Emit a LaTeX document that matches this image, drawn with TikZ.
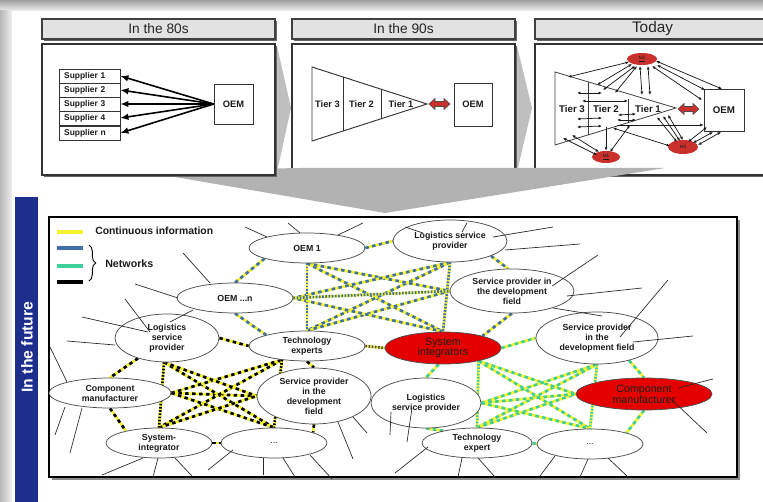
\documentclass[tikz,border=0pt]{standalone}
\usepackage{fontspec}
\setmainfont{Liberation Sans}
\usetikzlibrary{shapes.geometric,arrows.meta,decorations.pathreplacing,shadows}
\pgfdeclarelayer{back}
\pgfdeclarelayer{net}
\pgfsetlayers{back,net,main}
\definecolor{ylw}{HTML}{F4F22E}
\definecolor{nblue}{HTML}{3E6FA6}
\definecolor{ngreen}{HTML}{3CCF9A}
\definecolor{fred}{HTML}{E50000}
\definecolor{mred}{HTML}{C9302C}
\definecolor{barblue}{HTML}{1D2F8C}
\definecolor{hdr}{HTML}{E2E2E2}
\definecolor{ink}{HTML}{1A1A1A}
\definecolor{fun}{HTML}{B2B2B2}
\tikzset{
  redarr/.pic={\filldraw[fill=mred, draw=black!70, line width=0.4pt] (0,0) -- (6,-5.5) -- (6,-2.5) -- (15,-2.5) -- (15,-5.5) -- (21,0) -- (15,5.5) -- (15,2.5) -- (6,2.5) -- (6,5.5) -- cycle;}
}
\begin{document}
\begin{tikzpicture}[x=0.75pt,y=-0.75pt,
  every node/.style={text=ink},
  shd/.style={drop shadow={shadow xshift=1.8pt, shadow yshift=-1.8pt, fill=black!60, opacity=1}},
  hdrbox/.style={draw=black!75, line width=0.8pt, fill=hdr, shd, minimum height=15pt, inner sep=0pt, text=black!85, font=\fontsize{10.3}{12}\selectfont},
  panel/.style={draw=black!80, line width=0.8pt, fill=white, shd, minimum height=98.25pt, inner sep=0pt},
  sup/.style={draw=black!80, line width=0.6pt, fill=white, minimum width=45.75pt, minimum height=10.5pt, inner sep=0pt, text width=38pt, align=left, font=\bfseries\fontsize{6.3}{7}\selectfont},
  oembox/.style={draw=black!80, line width=0.6pt, fill=white, inner sep=0pt, font=\bfseries\fontsize{7}{8}\selectfont},
  tier/.style={inner sep=0pt, font=\bfseries\fontsize{7}{8}\selectfont},
  bigarr/.style={-{Latex[length=6pt,width=5pt]}, line width=1.2pt, black},
  tarr/.style={{Latex[length=2.6pt,width=2.2pt]}-{Latex[length=2.6pt,width=2.2pt]}, line width=0.55pt, black!90},
  tsing/.style={-{Latex[length=2.6pt,width=2.2pt]}, line width=0.55pt, black!90},
  mell/.style={ellipse, fill=mred, inner sep=0pt, font=\fontsize{3.5}{4}\selectfont},
  fe/.style 2 args={ellipse, draw=black!70, line width=0.55pt, fill=white, inner sep=0pt, minimum width=#1*1.5pt, minimum height=#2*1.5pt, align=center, font=\bfseries\fontsize{6.6}{7.5}\selectfont},
  fr/.style 2 args={fe={#1}{#2}, fill=fred, font=\fontsize{8}{8}\selectfont},
  netdash/.style={line width=2pt, draw=ylw, postaction={draw=#1, line width=2pt, dash pattern=on 2.6pt off 2.6pt}},
  netdot/.style={line width=2pt, draw=ylw, postaction={draw=#1, line width=2pt, dash pattern=on 1.2pt off 1.2pt}},
  spoke/.style={draw=black!85, line width=0.5pt},
  lgtext/.style={anchor=west, inner sep=0pt, font=\bfseries\fontsize{7.8}{9}\selectfont}
]
\useasboundingbox (0,0) rectangle (763,502);
\begin{pgfonlayer}{back}
  \fill[white] (0,0) rectangle (763,502);
  \shade[top color=black!38, bottom color=black!6] (0,0) rectangle (763,11);
  \shade[left color=black!28, right color=black!6] (0,11) rectangle (12,502);
  % Today
  \node[hdrbox, minimum width=176.25pt, font=\fontsize{11.5}{13}\selectfont] (hT) at (652.5,29) {Today};
  \node[panel, minimum width=176.25pt] (pT) at (652.5,109.5) {};
  % 90s
  \node[hdrbox, minimum width=167.25pt] (h90) at (403.5,29) {In the 90s};
  \node[panel, minimum width=167.25pt] (p90) at (403.5,109.5) {};
  % chevrons
  \fill[black!25] (277,46) -- (291,108) -- (277,172) -- cycle;
  \fill[black!25] (517,46) -- (532,108) -- (517,172) -- cycle;
  % funnel
  \fill[fun] (140,171) -- (300,168) -- (665,168) -- (385,213) -- cycle;
  % 80s
  \node[hdrbox, minimum width=174.75pt] (h80) at (158.5,29) {In the 80s};
  \node[panel, minimum width=174.75pt] (p80) at (158.5,109.5) {};
  % future bar and frame
  \fill[barblue] (15,197) rectangle (38,502);
  \node[rotate=90, text=white, inner sep=0pt, font=\bfseries\fontsize{11.8}{13}\selectfont] (fut) at (27,347) {In the future};
  \node[draw=black, fill=white, line width=0.8pt, minimum width=516pt, minimum height=195pt, inner sep=0pt,
        drop shadow={shadow xshift=2pt, shadow yshift=-2pt, fill=black!45, opacity=1}] (frame) at (393,347) {};
\end{pgfonlayer}

% ---------- 80s ----------
\node[sup] (s1) at (89.5,76) {Supplier 1};
\node[sup] (s2) at (89.5,90) {Supplier 2};
\node[sup] (s3) at (89.5,104) {Supplier 3};
\node[sup] (s4) at (89.5,118) {Supplier 4};
\node[sup] (s5) at (89.5,133) {Supplier n};
\node[oembox, minimum width=29.25pt, minimum height=30pt] (oem80) at (233.5,104) {OEM};
\foreach \s in {s1,s2,s3,s4,s5} \draw[bigarr] (oem80.west) -- (\s.east);

% ---------- 90s ----------
\coordinate (t9a) at (312,67);
\coordinate (t9b) at (427,104);
\coordinate (t9c) at (312,141);
\draw[black!80, line width=0.7pt, fill=white] (t9a) -- (t9b) -- (t9c) -- cycle;
\draw[black!80, line width=0.6pt] (343,77) -- (343,131) (381,89.2) -- (381,118.8);
\node[tier] (n93) at (327.5,104) {Tier 3};
\node[tier] (n92) at (361.5,104) {Tier 2};
\node[tier] (n91) at (401,104) {Tier 1};
\pic at (429,104) {redarr};
\node[oembox, minimum width=28.5pt, minimum height=32.25pt] (oem90) at (473,104.5) {OEM};

% ---------- Today ----------
\coordinate (tta) at (555,72);
\coordinate (ttb) at (676,108);
\coordinate (ttc) at (555,145);
\draw[black!75, line width=0.6pt, fill=white] (tta) -- (ttb) -- (ttc) -- cycle;
\draw[black!75, line width=0.5pt] (588,82) -- (588,135) (628,99) -- (628,123);
\node[tier, font=\bfseries\fontsize{7.3}{8}\selectfont] (tt3) at (572,109) {Tier 3};
\node[tier, font=\bfseries\fontsize{7.3}{8}\selectfont] (tt2) at (606,109) {Tier 2};
\node[tier, font=\bfseries\fontsize{7.3}{8}\selectfont] (tt1) at (648,109) {Tier 1};
\pic at (678,109) {redarr};
\node[oembox, minimum width=30pt, minimum height=31.5pt, font=\bfseries\fontsize{7.3}{8}\selectfont] (oemT) at (724,110) {OEM};
\node[mell, minimum width=22.5pt, minimum height=9pt] (m2) at (642,59) {\underline{M2}};
\node[mell, minimum width=21pt, minimum height=9pt] (m1) at (606,157) {\underline{M1}};
\node[mell, minimum width=22.5pt, minimum height=10.5pt] (m3) at (683,147) {M3};
\foreach \a/\b/\c/\d in {568/77/629/62, 597/85/632/64, 603/90/635/66, 615/93/637/66, 642/95/640/66, 650/95/648/66,
  656/61/722/89, 657/65/705/90, 652/66/702/100, 577/93/602/93, 582/101/628/101, 577/119/602/118, 577/127/602/126,
  618/115/636/114, 617/120/636/120, 563/138/597/155, 572/135/599/152, 630/125/610/152, 613/128/670/146,
  657/117/677/142, 663/116/680/141, 668/115/683/140, 688/142/707/127, 693/143/713/132, 698/145/721/132}
  \draw[tarr] (\a,\b) -- (\c,\d);
\draw[tsing] (606,127) -- (m1.north);
\draw[tsing] (617,125) -- (oemT.west |- 0,125);

% ---------- legend ----------
\draw[ylw, line width=2.4pt] (57,232) -- (83,232);
\draw[nblue, line width=3pt] (57,248) -- (83,248);
\draw[ngreen, line width=3pt] (57,266) -- (83,266);
\draw[black, line width=3pt] (57,282) -- (83,282);
\node[lgtext] (lg1) at (95,231) {Continuous information};
\draw[decorate, decoration={brace, amplitude=5pt}, line width=0.7pt] (89,245) -- (89,281);
\node[lgtext, font=\bfseries\fontsize{8}{9}\selectfont] (lg2) at (105,264) {Networks};

% ---------- future nodes ----------
\node[fe={58}{15}] (oem1) at (307,248) {OEM 1};
\node[fe={57}{21}] (lsp1) at (450,241) {Logistics service\\provider};
\node[fe={58}{15}] (oemn) at (235,298) {OEM ...n};
\node[fe={62}{22}] (spd1) at (512,291) {Service provider in\\the development\\field};
\node[fe={52}{24}] (lsp2) at (167,338) {Logistics\\service\\provider};
\node[fe={58}{15}] (tex1) at (307,346) {Technology\\experts};
\node[fr={58}{16}] (sysi) at (443,348) {System\\integrators};
\node[fe={61}{26}] (spd2) at (597,338) {Service provider\\in the\\development field};
\node[fe={61}{15}] (cm1) at (110,393) {Component\\manufacturer};
\node[fe={57}{28}] (spd3) at (314,396) {Service provider\\in the\\development\\field};
\node[fe={55}{25}] (lsp3) at (426,403) {Logistics\\service provider};
\node[fr={68}{16}] (cm2) at (644,394) {Component\\manufacturer};
\node[fe={53}{15}] (sysi2) at (159,443) {System-\\integrator};
\node[fe={53}{15}, font=\fontsize{6.6}{7.5}\selectfont] (dots1) at (274,443) {...};
\node[fe={55}{15}] (tex2) at (477,443) {Technology\\expert};
\node[fe={53}{15}, font=\fontsize{6.6}{7.5}\selectfont] (dots2) at (590,444) {...};

% ---------- networks ----------
\begin{pgfonlayer}{net}
  % blue
  \draw[netdash=nblue] (oem1.east) -- (lsp1.west);
  \draw[netdash=nblue] (oem1.194) -- (oemn.north);
  \draw[netdash=nblue] (oemn.south) -- (tex1.165);
  \draw[netdash=nblue] (lsp1.340) -- (spd1.100);
  \draw[netdash=nblue] (spd1.south) -- (sysi.17);
  \draw[netdash=nblue] (oem1.south) -- (sysi.north);
  \draw[netdash=nblue] (lsp1.south) -- (tex1.north);
  \draw[netdash=nblue] (oem1.south) -- (spd1.west);
  \draw[netdash=nblue] (tex1.north) -- (spd1.west);
  \draw[netdash=nblue] (lsp1.south) -- (oemn.east);
  \draw[netdash=nblue] (sysi.north) -- (oemn.east);
  \draw[netdot=nblue] (oem1.south) -- (tex1.north);
  \draw[netdot=nblue] (lsp1.south) -- (sysi.north);
  \draw[netdot=nblue] (oemn.east) -- (spd1.west);
  \draw[netdot=black!70] (tex1.east) -- (sysi.west);
  % black
  \draw[netdash=black] (lsp2.east) -- (tex1.west);
  \draw[netdash=black] (lsp2.215) -- (cm1.north);
  \draw[netdash=black] (cm1.south) -- (sysi2.160);
  \draw[netdash=black] (sysi2.east) -- (dots1.west);
  \draw[netdash=black] (tex1.south) -- (spd3.north);
  \draw[netdash=black] (spd3.south) -- (dots1.15);
  \draw[netdash=black] (cm1.east) -- (spd3.west);
  \draw[netdash=black] (lsp2.263) -- (dots1.north);
  \draw[netdash=black] (tex1.209) -- (sysi2.north);
  \draw[netdash=black] (cm1.east) -- (tex1.209);
  \draw[netdash=black] (cm1.east) -- (dots1.north);
  \draw[netdash=black] (lsp2.263) -- (spd3.west);
  \draw[netdash=black] (sysi2.north) -- (spd3.west);
  \draw[netdot=black] (lsp2.263) -- (sysi2.north);
  \draw[netdot=black] (tex1.209) -- (dots1.north);
  % green
  \draw[netdash=ngreen] (sysi.east) -- (spd2.west);
  \draw[netdash=ngreen] (sysi.255) -- (lsp3.north);
  \draw[netdash=ngreen] (spd2.325) -- (cm2.north);
  \draw[netdash=ngreen] (cm2.south) -- (dots2.17);
  \draw[netdash=ngreen] (lsp3.south) -- (tex2.160);
  \draw[netdash=ngreen] (tex2.east) -- (dots2.west);
  \draw[netdash=ngreen] (sysi.340) -- (dots2.north);
  \draw[netdash=ngreen] (spd2.south) -- (tex2.north);
  \draw[netdash=ngreen] (sysi.340) -- (cm2.west);
  \draw[netdash=ngreen] (tex2.north) -- (cm2.west);
  \draw[netdash=ngreen] (lsp3.east) -- (spd2.south);
  \draw[netdash=ngreen] (lsp3.east) -- (cm2.west);
  \draw[netdash=ngreen] (lsp3.east) -- (dots2.north);
  \draw[netdot=ngreen] (sysi.340) -- (tex2.north);
  \draw[netdot=ngreen] (spd2.south) -- (dots2.north);
\end{pgfonlayer}

% ---------- spokes ----------
\foreach \n/\a/\b/\c/\d in {oem1/-40/-11/-22/-10, oem1/-7/-15/-12/-10, oem1/31/-13/25/-12,
  oemn/-25/-15/-27/-30, oemn/-57/0/-43/-14, oemn/-42/12/-23/12,
  lsp2/-17/-6/-25/-33, lsp2/-19/-6/-66/-15, lsp2/-52/7/-48/-4,
  cm1/-43/-11/-17/-35, cm1/-45/14/-10/28, cm1/-28/15/-12/45,
  sysi2/-16/15/-41/17, sysi2/-1/15/-5/19, sysi2/16/15/17/18,
  dots1/-41/7/-25/20, dots1/-11/15/0/17, dots1/9/15/12/19, dots1/36/12/22/24,
  spd3/24/26/15/37, spd3/39/21/14/16,
  lsp3/-35/9/-1/23, lsp3/-14/5/-5/34,
  tex2/-49/4/-33/26, tex2/-15/15/-4/19, tex2/1/15/17/19,
  dots2/-35/12/-15/20, dots2/-2/15/-8/18, dots2/18/14/20/19,
  cm2/34/-6/35/-9, cm2/28/6/35/33,
  lsp1/-27/-8/-18/-6, lsp1/12/-9/5/-9, lsp1/43/-4/60/-10, lsp1/55/9/75/-6,
  spd1/40/-5/46/-31, spd1/55/5/75/-8, spd1/41/17/49/8,
  spd2/23/-1/48/-57, spd2/36/4/60/-6}
  \draw[spoke] ([shift={(\a,\b)}]\n.center) -- ++(\c,\d);
\end{tikzpicture}
\end{document}
